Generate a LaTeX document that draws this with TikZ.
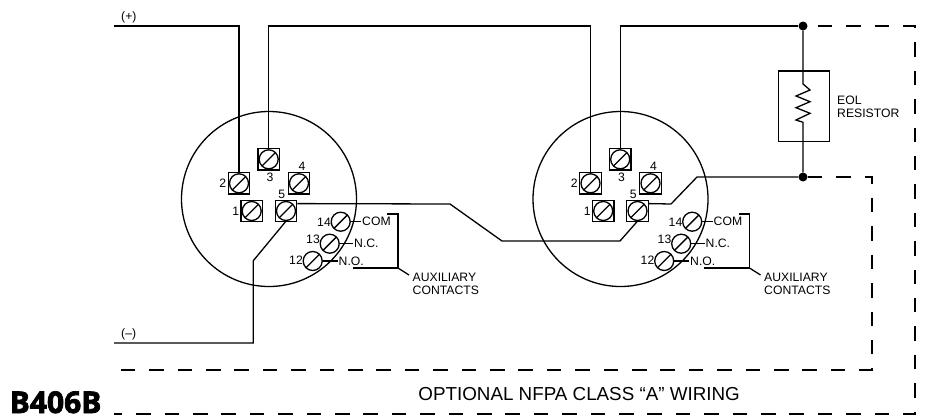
\documentclass[tikz,border=0pt]{standalone}
\usepackage{fontspec}
\setmainfont{Liberation Sans}
\newfontfamily\tagfont[FakeBold=2.5]{Open Sans Bold}
\usetikzlibrary{calc}
\tikzset{
  wire/.style={line width=1.3pt},
  optwire/.style={line width=1.3pt, dash pattern=on 14.5pt off 13.9pt},
  txt/.style={inner sep=1pt, font=\fontsize{12.2}{13}\selectfont},
  body/.style={circle, draw, line width=1.3pt, minimum size=175pt, inner sep=0pt},
  base/.style={rectangle, draw, line width=1.3pt, minimum size=21.5pt, inner sep=0pt},
  screw/.style={circle, draw, line width=1.3pt, minimum size=19pt, inner sep=0pt,
    path picture={\draw[line width=1.3pt] (path picture bounding box.south west) -- (path picture bounding box.north east);}},
  junction/.style={circle, fill, minimum size=9pt, inner sep=0pt}
}
\begin{document}
\begin{tikzpicture}[x=1pt, y=-1pt]
    \useasboundingbox (0, 0) rectangle (926, 418);
    % the two detector bases
    \foreach \det/\dx in {a/0, b/351.5} {
    \begin{scope}[shift={(\dx, 0)}, name prefix=\det-]
      \node[body] (body) at (269, 199) {};
      \foreach \i/\x/\y/\lx/\ly in {1/251.7/211/235.7/211, 2/239/183.3/222.7/183, 3/268.7/159.3/270/177.7, 4/299/183.3/302/166.7, 5/286/211/281.7/194} {
        \node[base] (b\i) at (\x, \y) {};
        \node[screw] (t\i) at (\x, \y) {};
        \node[txt] (l\i) at (\lx, \ly) {\i};
      }
      \foreach \i/\x/\y/\lx/\ly in {14/340.7/221.7/324/222.3, 13/329.7/243.7/313/239.7, 12/312.7/261/296/260} {
        \node[screw] (t\i) at (\x, \y) {};
        \node[txt] (l\i) at (\lx, \ly) {\i};
      }
      \node[txt, anchor=west] (com) at (361, 221.7) {COM};
      \node[txt, anchor=west] (nc) at (353, 243.7) {N.C.};
      \node[txt, anchor=west] (no) at (337.5, 261) {N.O.};
      \draw[wire] (t14) -- (com);
      \draw[wire] (t13) -- (nc);
      \draw[wire] (t12) -- (no);
      % auxiliary contacts bracket
      \coordinate (brtop) at (387, 214);
      \coordinate (brbot) at (352.5, 268);
      \coordinate (brmid) at (398, 268);
      \node[txt, anchor=north west, align=left, inner sep=0pt, font=\fontsize{12.2}{13.4}\selectfont] (aux) at (412.5, 272.5) {AUXILIARY\\CONTACTS};
      \draw[wire] (brtop) -- (brmid |- brtop) -- (brmid) -- (brbot);
      \draw[wire] (brmid) -- (409, 275);
    \end{scope}
    }
    % supply wiring
    \coordinate (pos) at (114, 26);
    \coordinate (neg) at (114, 343);
    \node[txt, anchor=south west] (plus) at (120, 24.5) {(+)};
    \node[txt, anchor=south west] (minus) at (120, 341.5) {(--)};
    \node[junction] (jtop) at (803, 26) {};
    \node[junction] (jbot) at (803, 177) {};
    \draw[wire] (pos) -- (a-t2 |- pos) -- (a-t2.north);
    \draw[wire] (a-t3.north) -- (a-t3 |- pos) -- (b-t2 |- pos) -- (b-t2.north);
    \draw[wire] (b-t3.north) -- (b-t3 |- pos) -- (jtop);
    \draw[wire] (neg) -- (253.3, 343) -- (253.3, 260.7) -- (a-t5.south);
    \draw[wire] (a-b5.33) -- (450, 204) -- (502, 241) -- (620, 241) -- (b-t5.south);
    \draw[wire] (b-b5.33) -- (671, 204) -- (697, 177) -- (jbot);
    % EOL resistor
    \node[rectangle, draw, line width=1.3pt, minimum width=50.5pt, minimum height=70.5pt, inner sep=0pt] (eol) at (804, 106.3) {};
    \draw[wire] (jtop) -- (803, 84) -- (810, 90) -- (796, 96) -- (810, 101.7) -- (796, 107.7) -- (810, 113.3) -- (796, 120) -- (803, 122.3) -- (jbot);
    \node[txt, anchor=north west, align=left, inner sep=0pt, font=\fontsize{12.2}{12.4}\selectfont] (eoltxt) at (837, 96) {EOL\\RESISTOR};
    % optional class A wiring
    \coordinate (outer) at (915, 26);
    \coordinate (inner) at (872, 177);
    \draw[optwire, dash phase=18.4pt] (jtop) -- (outer) -- (915, 414) -- (114, 414);
    \draw[optwire] (jbot) -- (inner) -- (872, 370) -- (114, 370);
    \node[inner sep=0pt, anchor=base east, font=\fontsize{18.8}{20}\selectfont] (opt) at (740, 400) {OPTIONAL NFPA CLASS “A” WIRING};
    \node[inner sep=0pt, anchor=base west, font=\fontsize{30}{30}\tagfont] (tag) at (9.5, 413) {B406B};
  \end{tikzpicture}
\end{document}
